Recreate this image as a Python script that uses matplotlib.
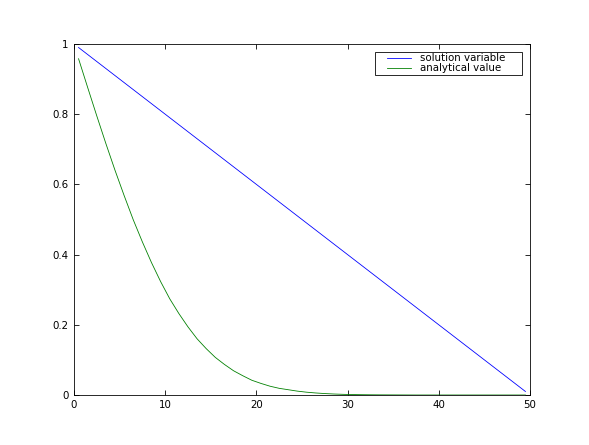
import matplotlib
matplotlib.use("Agg")
import matplotlib.pyplot as plt
from matplotlib.lines import Line2D
from matplotlib.legend_handler import HandlerLine2D

# cell centres
x = [0.5 + i for i in range(50)]

# numerical solution
solution = [0.99, 0.97, 0.95, 0.93, 0.91, 0.89, 0.87, 0.85, 0.83, 0.81,
            0.79, 0.77, 0.75, 0.73, 0.71, 0.69, 0.67, 0.65, 0.63, 0.61,
            0.59, 0.57, 0.55, 0.53, 0.51, 0.49, 0.47, 0.45, 0.43, 0.41,
            0.39, 0.37, 0.35, 0.33, 0.31, 0.29, 0.27, 0.25, 0.23, 0.21,
            0.19, 0.17, 0.15, 0.13, 0.11, 0.09, 0.07, 0.05, 0.03, 0.01]

# analytical value
analytical = [0.958, 0.876, 0.795, 0.716, 0.640, 0.568, 0.499, 0.436, 0.377, 0.323,
              0.274, 0.232, 0.194, 0.160, 0.132, 0.107, 0.087, 0.069, 0.055, 0.042,
              0.033, 0.025, 0.019, 0.015, 0.011, 0.008, 0.0058, 0.0041, 0.0028, 0.0019,
              0.0013, 0.0009, 0.0006, 0.0004, 0.0003, 0.0002, 0.0001, 0.0, 0.0, 0.0,
              0.0, 0.0, 0.0, 0.0, 0.0, 0.0, 0.0, 0.0, 0.0, 0.0]

xticks = [0, 10, 20, 30, 40, 50]
yticks = [0, 0.2, 0.4, 0.6, 0.8, 1]
ylabels = ['0', '0.2', '0.4', '0.6', '0.8', '1']

fig = plt.figure(figsize=(589 / 74, 445 / 74), dpi=74)
ax = fig.add_axes([74 / 589, 50 / 445, 456 / 589, 351 / 445])

ax.plot(x, solution, color='#0000ff', lw=0.8, label='solution variable')
ax.plot(x, analytical, color='#008000', lw=0.8, label='analytical value')

ax.set_xlim(0, 50)
ax.set_ylim(0, 1)
ax.set_xticks(xticks)
ax.set_xticklabels([str(t) for t in xticks])
ax.set_yticks(yticks)
ax.set_yticklabels(ylabels)
ax.tick_params(direction='in', top=True, right=True, length=5, labelsize=10, pad=5)

# old-style legend: short handles with a wide gap on the left
leg = ax.legend(loc='upper left', bbox_to_anchor=(0.660, 0.0, 0.322, 0.978),
                mode='expand', borderaxespad=0,
                fancybox=False, framealpha=1, edgecolor='black', fontsize=10,
                handlelength=4.47, handletextpad=-0.2, borderpad=0.15,
                labelspacing=0.0,
                handler_map={Line2D: HandlerLine2D(numpoints=2, marker_pad=1.07)})
leg.get_frame().set_linewidth(0.8)

fig.savefig('out.png', dpi=74)
